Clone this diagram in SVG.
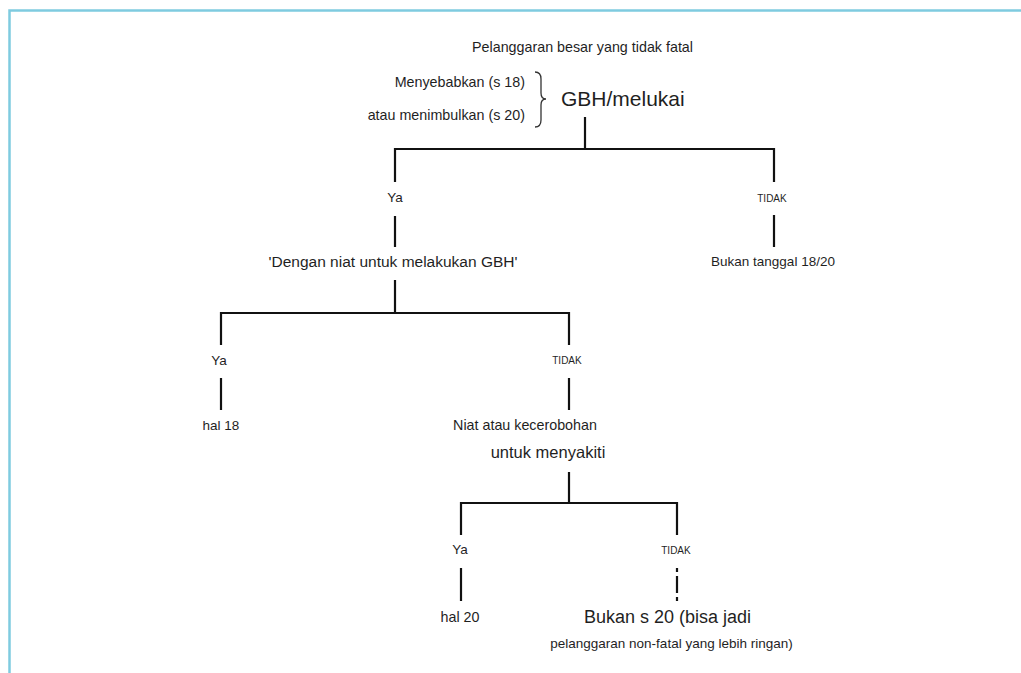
<svg xmlns="http://www.w3.org/2000/svg" width="1021" height="673" viewBox="0 0 1021 673">
<style>
text{font-family:"Liberation Sans",Arial,sans-serif;fill:#1f1f1f}
.c{text-anchor:middle}
.r{text-anchor:end}
.s13{font-size:13.5px}
.s14{font-size:14.3px}
.s10{font-size:10px}
.ln{stroke:#111;stroke-width:2.2;fill:none}
</style>
<rect x="0" y="0" width="1021" height="673" fill="#fff"/>
<path d="M9.5 673 V10.5 H1021" fill="none" stroke="#7fcbe0" stroke-width="2.5"/>
<g id="connectors">
<path class="ln" d="M585 117 V149"/>
<path class="ln" d="M395 182 V149 H774 V182"/>
<path class="ln" d="M395 216 V247"/>
<path class="ln" d="M774 215 V247"/>
<path class="ln" d="M395 280 V313"/>
<path class="ln" d="M221 345 V313 H569 V345"/>
<path class="ln" d="M221 378 V410"/>
<path class="ln" d="M569 378 V410"/>
<path class="ln" d="M569 472 V503"/>
<path class="ln" d="M461 535 V503 H677 V535"/>
<path class="ln" d="M461 568 V601"/>
<path class="ln" d="M677 568 V601" stroke-dasharray="4 4 17 4 5"/>
</g>
<g id="title"><text class="c s14" x="582.5" y="52">Pelanggaran besar yang tidak fatal</text></g>
<g id="causes">
<text class="r s14" x="525" y="87">Menyebabkan (s 18)</text>
<text class="r s14" x="525" y="120">atau menimbulkan (s 20)</text>
<path d="M535 72 Q541 72 541 79 V93 Q541 99 546 99 Q541 99 541 105 V120 Q541 127 535 127" fill="none" stroke="#333" stroke-width="1.3"/>
</g>
<g id="gbh"><text x="561" y="106" style="font-size:21px">GBH/melukai</text></g>
<g id="ya1"><text class="c s13" x="395" y="202">Ya</text></g>
<g id="tidak1"><text class="c s10" x="772" y="202">TIDAK</text></g>
<g id="intent"><text class="c" x="393" y="267" style="font-size:15.5px">'Dengan niat untuk melakukan GBH'</text></g>
<g id="notss"><text class="c s13" x="773" y="266">Bukan tanggal 18/20</text></g>
<g id="ya2"><text class="c s13" x="219" y="365">Ya</text></g>
<g id="tidak2"><text class="c s10" x="567" y="364">TIDAK</text></g>
<g id="s18"><text class="c s13" x="221" y="430">hal 18</text></g>
<g id="recklessness">
<text class="c s14" x="525" y="430">Niat atau kecerobohan</text>
<text class="c" x="548" y="458" style="font-size:16.5px">untuk menyakiti</text>
</g>
<g id="ya3"><text class="c s13" x="460" y="554">Ya</text></g>
<g id="tidak3"><text class="c s10" x="676" y="554">TIDAK</text></g>
<g id="s20"><text class="c s14" x="460" y="622">hal 20</text></g>
<g id="nots20">
<text class="c" x="667.5" y="623" style="font-size:18px">Bukan s 20 (bisa jadi</text>
<text class="c s13" x="671.5" y="648">pelanggaran non-fatal yang lebih ringan)</text>
</g>
</svg>
